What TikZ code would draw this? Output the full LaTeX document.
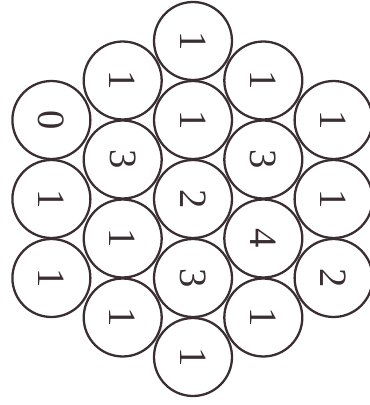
\documentclass[tikz,border=0pt]{standalone}
\usepackage{fontspec}
\setmainfont{Liberation Serif}
\usepackage{tikz}
\usetikzlibrary{positioning}
\definecolor{inkdark}{RGB}{58, 46, 50}

\begin{document}
\begin{tikzpicture}[x=0.02cm, y=-0.02cm,
  ball/.style={circle, draw=inkdark, line width=1.3pt, fill=white,
    minimum size=1.56cm, inner sep=0pt, rotate=-90,
    text=inkdark, font=\fontsize{22}{26}\selectfont}]
  \useasboundingbox (0,0) rectangle (369,405);

  % 左列（3个）
  \node[ball] (a1) at (51.4,120.0) {0};
  \node[ball] (a2) at (51.4,199.0) {1};
  \node[ball] (a3) at (51.4,278.0) {1};

  % 第二列（4个）
  \node[ball] (b1) at (122.7, 80.5) {1};
  \node[ball] (b2) at (122.7,159.5) {3};
  \node[ball] (b3) at (122.7,238.5) {1};
  \node[ball] (b4) at (122.7,317.5) {1};

  % 中列（5个）
  \node[ball] (c1) at (193.0, 41.0) {1};
  \node[ball] (c2) at (193.0,120.0) {1};
  \node[ball] (c3) at (193.0,199.0) {2};
  \node[ball] (c4) at (193.0,278.0) {3};
  \node[ball] (c5) at (193.0,357.0) {1};

  % 第四列（4个）
  \node[ball] (d1) at (263.3, 80.5) {1};
  \node[ball] (d2) at (263.3,159.5) {3};
  \node[ball] (d3) at (263.3,238.5) {4};
  \node[ball] (d4) at (263.3,317.5) {1};

  % 右列（3个）
  \node[ball] (e1) at (333.6,120.0) {1};
  \node[ball] (e2) at (333.6,199.0) {1};
  \node[ball] (e3) at (333.6,278.0) {2};
\end{tikzpicture}
\end{document}
